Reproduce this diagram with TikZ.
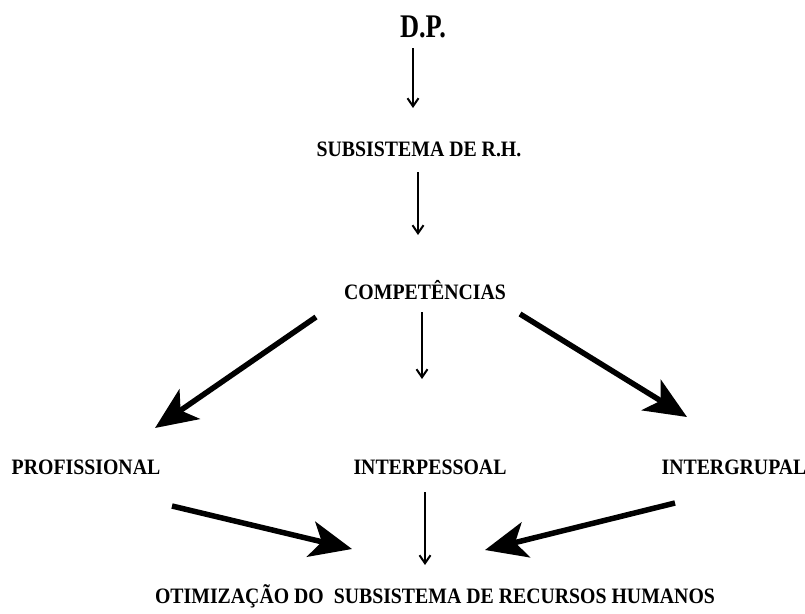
\documentclass[tikz,border=0pt]{standalone}
\usepackage{fontspec}
\setmainfont{Liberation Serif}
\newfontfamily\labelfont[FakeStretch=0.9]{Liberation Serif}
\newfontfamily\titlefont[FakeStretch=0.8]{Liberation Serif}
\usetikzlibrary{arrows.meta}
\begin{document}
\begin{tikzpicture}[x=1pt,y=-1pt,
  lbl/.style={inner sep=0pt, font=\labelfont\fontsize{22}{24}\selectfont\bfseries},
  title/.style={inner sep=0pt, font=\titlefont\fontsize{33}{35}\selectfont\bfseries},
  thin/.style={line width=2.8pt, -{Straight Barb[length=8pt,width=11pt,line width=2pt]}},
  thick/.style={line width=5.5pt, -{Stealth[length=42pt,width=36pt,inset=11pt]}}]
\useasboundingbox (0,0) rectangle (805,613);

% labels
\node[title] (dp)   at (423,27)  {D.P.};
\node[lbl]   (sub)  at (419,149) {SUBSISTEMA DE R.H.};
\node[lbl]   (comp) at (425,290) {COMPETÊNCIAS};
\node[lbl]   (prof) at (86,467)  {PROFISSIONAL};
\node[lbl]   (inte) at (430,467) {INTERPESSOAL};
\node[lbl]   (intg) at (734,467) {INTERGRUPAL};
\node[lbl]   (otim) at (435,596) {OTIMIZAÇÃO DO\ \ SUBSISTEMA DE RECURSOS HUMANOS};

% arrow end points
\coordinate (dpA) at (413,48);   \coordinate (dpB) at (413,108);
\coordinate (subA) at (418,172); \coordinate (subB) at (418,235);
\coordinate (cA) at (422,312);   \coordinate (cB) at (422,379);
\coordinate (lA) at (316,317);   \coordinate (lB) at (155,428);
\coordinate (rA) at (520,314);   \coordinate (rB) at (687,417);
\coordinate (blA) at (172,506);  \coordinate (blB) at (352,549);
\coordinate (bcA) at (425,492);  \coordinate (bcB) at (425,565);
\coordinate (brA) at (675,503);  \coordinate (brB) at (485,550);

% connectors
\draw[thin]  (dpA) -- (dpB);
\draw[thin]  (subA) -- (subB);
\draw[thin]  (cA) -- (cB);
\draw[thick] (lA) -- (lB);
\draw[thick] (rA) -- (rB);
\draw[thick] (blA) -- (blB);
\draw[thin]  (bcA) -- (bcB);
\draw[thick] (brA) -- (brB);
\end{tikzpicture}
\end{document}
